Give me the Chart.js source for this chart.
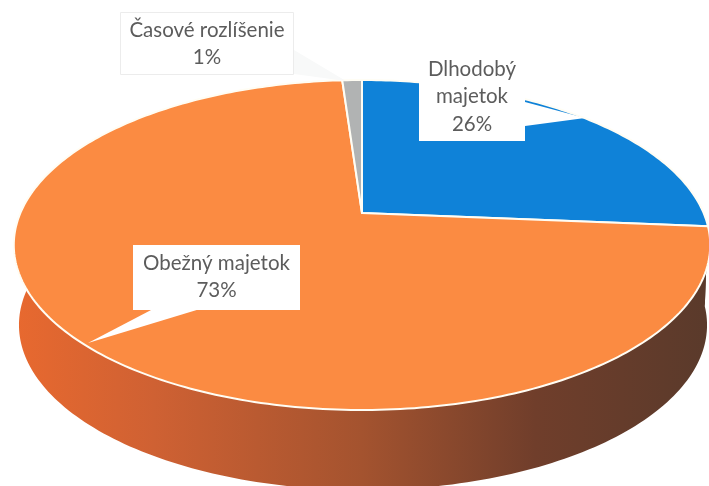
<!DOCTYPE html>
<html>
<head>
<meta charset="utf-8">
<style>
html, body { margin: 0; padding: 0; background: #fff; overflow: hidden; }
canvas { display: block; filter: blur(0.5px); }
</style>
<script src="https://cdn.jsdelivr.net/npm/chart.js@4"></script>
</head>
<body>
<canvas id="myChart" width="709" height="486"></canvas>
<script>
var categories = ['Dlhodobý majetok', 'Obežný majetok', 'Časové rozlíšenie'];
var shares = [26.3, 72.6, 1.1];
var sliceColors = ['#0f82d8', '#fb8b42', '#b1b3b3'];

// label boxes, text lines come from categories + share
var callouts = [
  { lines: ['Dlhodobý', 'majetok'], box: [419, 50, 106, 91], first: 69, tail: [[525, 102], [585, 118], [525, 126]], edge: null },
  { lines: ['Obežný majetok'], box: [133, 245, 167, 65], first: 263, tail: [[153, 309], [88, 343], [200, 309]], edge: null },
  { lines: ['Časové rozlíšenie'], box: [120, 12, 174, 63], first: 30, tail: [[294, 50], [346, 81], [294, 74]], edge: '#ececec' }
];

// perspective of the tilted disc
var cx = 362, cy = 213, rx = 341.6, ry = 158.8, tilt = -0.194;
var depth = 80, lowerScale = 0.988;

function project(angle) {
  var u = Math.cos(angle), v = Math.sin(angle);
  var w = 1 + tilt * v;
  return { x: cx + rx * u / w, y: cy + ry * v / w };
}

function lower(p) {
  return { x: cx + 1 + (p.x - cx) * lowerScale, y: p.y + depth };
}

function drawWall(ctx, arc) {
  var grad = ctx.createLinearGradient(14, 0, 709, 0);
  grad.addColorStop(0, '#e8692f');
  grad.addColorStop(0.2, '#cf6133');
  grad.addColorStop(0.5, '#a4532f');
  grad.addColorStop(0.75, '#703e2b');
  grad.addColorStop(1, '#5a3a2b');
  ctx.fillStyle = grad;
  ctx.beginPath();
  var n = 240, i, a, p;
  for (i = 0; i <= n; i++) {
    a = arc.startAngle + (arc.endAngle - arc.startAngle) * i / n;
    p = project(a);
    if (i === 0) ctx.moveTo(p.x, p.y); else ctx.lineTo(p.x, p.y);
  }
  for (i = n; i >= 0; i--) {
    a = arc.startAngle + (arc.endAngle - arc.startAngle) * i / n;
    p = lower(project(a));
    ctx.lineTo(p.x, p.y);
  }
  ctx.closePath();
  ctx.fill();
}

function drawTop(ctx, arc, color) {
  var n = Math.max(4, Math.round((arc.endAngle - arc.startAngle) * 60));
  ctx.beginPath();
  ctx.moveTo(cx, cy);
  for (var i = 0; i <= n; i++) {
    var p = project(arc.startAngle + (arc.endAngle - arc.startAngle) * i / n);
    ctx.lineTo(p.x, p.y);
  }
  ctx.closePath();
  ctx.fillStyle = color;
  ctx.fill();
  ctx.lineWidth = 2;
  ctx.strokeStyle = '#fffdf4';
  ctx.lineJoin = 'round';
  ctx.stroke();
}

function drawCallout(ctx, c, value) {
  ctx.fillStyle = '#fff';
  ctx.fillRect(c.box[0], c.box[1], c.box[2], c.box[3]);
  if (c.edge) {
    ctx.strokeStyle = c.edge;
    ctx.lineWidth = 1;
    ctx.strokeRect(c.box[0] + 0.5, c.box[1] + 0.5, c.box[2] - 1, c.box[3] - 1);
  }
  ctx.beginPath();
  ctx.moveTo(c.tail[0][0], c.tail[0][1]);
  ctx.lineTo(c.tail[1][0], c.tail[1][1]);
  ctx.lineTo(c.tail[2][0], c.tail[2][1]);
  ctx.closePath();
  ctx.fillStyle = c.edge ? '#f8f9f9' : '#fff';
  ctx.fill();

  ctx.fillStyle = '#5c5c5c';
  ctx.font = '20.5px Lato';
  ctx.textAlign = 'center';
  ctx.textBaseline = 'middle';
  var mid = c.box[0] + c.box[2] / 2;
  var rows = c.lines.concat([Math.round(value) + '%']);
  for (var i = 0; i < rows.length; i++) {
    ctx.fillText(rows[i], mid, c.first + i * 27.5);
  }
}

var disc3d = {
  id: 'disc3d',
  beforeDatasetsDraw: function (chart) {
    var ctx = chart.ctx;
    var arcs = chart.getDatasetMeta(0).data;
    ctx.save();
    arcs.forEach(function (arc) { drawWall(ctx, arc); });
    arcs.forEach(function (arc, i) { drawTop(ctx, arc, sliceColors[i]); });
    arcs.forEach(function (arc, i) { drawCallout(ctx, callouts[i], shares[i]); });
    ctx.restore();
    return false;
  }
};

var ctx = document.getElementById('myChart');
var myChart = new Chart(ctx, {
  type: 'pie',
  data: {
    labels: categories,
    datasets: [{
      data: shares,
      backgroundColor: sliceColors,
      borderWidth: 0
    }]
  },
  options: {
    responsive: false,
    animation: false,
    plugins: {
      legend: { display: false },
      tooltip: { enabled: false }
    }
  },
  plugins: [disc3d]
});
</script>
</body>
</html>
